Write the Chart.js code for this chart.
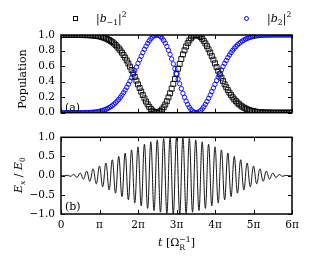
<!DOCTYPE html>
<html>
<head>
<meta charset="utf-8">
<script src="https://cdn.jsdelivr.net/npm/chart.js@4.4.0/dist/chart.umd.min.js"></script>
<style>
  body { margin: 0; background: #fff; width: 311px; height: 267px; position: relative; overflow: hidden;
         font-family: "DejaVu Serif", serif; color: #000; }
  canvas { position: absolute; left: 0; }
  #chartPop { top: 0; }
  #chartField { top: 125px; }
  .txt { position: absolute; white-space: nowrap; font-size: 11px; line-height: 1; }
  .rot { transform: translate(-50%, -50%) rotate(-90deg); }
  sub, sup { font-size: 70%; line-height: 0; }
  .ss { display: inline-block; vertical-align: -0.45em; font-size: 70%; line-height: 1; }
  .ss span { display: block; }
  .mk { position: absolute; }
</style>
</head>
<body>
<canvas id="chartPop" width="311" height="125"></canvas>
<canvas id="chartField" width="311" height="142"></canvas>

<!-- legenda -->
<div class="mk" style="left:73px;top:16px;width:5px;height:5px;border:1px solid #000;box-sizing:border-box"></div>
<div class="txt" style="left:96px;top:13px">|<i>b</i><sub>−1</sub>|<sup>2</sup></div>
<div class="mk" style="left:244px;top:16px;width:5px;height:5px;border:1px solid #00f;border-radius:50%;box-sizing:border-box"></div>
<div class="txt" style="left:267px;top:13px">|<i>b</i><sub>2</sub>|<sup>2</sup></div>

<!-- rótulos -->
<div class="txt" style="left:65px;top:102px">(a)</div>
<div class="txt" style="left:65px;top:201px">(b)</div>
<div class="txt rot" style="left:22px;top:79px">Population</div>
<div class="txt rot" style="left:18px;top:175px"><i>E<sub>x</sub></i> / <i>E</i><sub>0</sub></div>
<div class="txt" style="left:158px;top:236px"><i>t</i> [Ω<span class="ss"><span>−1</span><span>R</span></span>]</div>

<script>
// === DADOS ===
// populações: uma amostra a cada π/24, de 0 a 6π
const popStep = 1 / 24;

const popMinus1 = [
  1.000, 1.000, 1.000, 1.000, 1.000, 1.000, 1.000, 1.000, 1.000, 1.000, 1.000, 1.000, 1.000,
  0.999, 0.999, 0.999, 0.998, 0.998, 0.997, 0.995, 0.994, 0.992, 0.989, 0.986, 0.982,
  0.977, 0.971, 0.964, 0.956, 0.946, 0.935, 0.922, 0.908, 0.891, 0.872, 0.851, 0.828,
  0.802, 0.773, 0.742, 0.709, 0.672, 0.634, 0.593, 0.550, 0.506, 0.460, 0.413, 0.365,
  0.318, 0.272, 0.227, 0.184, 0.144, 0.108, 0.075, 0.048, 0.026, 0.011, 0.002, 0.000,
  0.006, 0.020, 0.041, 0.070, 0.105, 0.148, 0.197, 0.250, 0.309, 0.372, 0.433, 0.500,
  0.567, 0.628, 0.691, 0.750, 0.803, 0.852, 0.895, 0.930, 0.959, 0.980, 0.994, 1.000,
  0.998, 0.989, 0.974, 0.952, 0.925, 0.892, 0.856, 0.816, 0.773, 0.728, 0.682, 0.635,
  0.587, 0.540, 0.494, 0.450, 0.407, 0.366, 0.328, 0.291, 0.258, 0.227, 0.198, 0.172,
  0.149, 0.128, 0.109, 0.092, 0.078, 0.065, 0.054, 0.044, 0.036, 0.029, 0.023, 0.018,
  0.014, 0.011, 0.008, 0.006, 0.005, 0.003, 0.002, 0.002, 0.001, 0.001, 0.001, 0.000,
  0.000, 0.000, 0.000, 0.000, 0.000, 0.000, 0.000, 0.000, 0.000, 0.000, 0.000, 0.000
];

const popPlus2 = [
  0.000, 0.000, 0.000, 0.000, 0.000, 0.000, 0.000, 0.000, 0.000, 0.000, 0.000, 0.000, 0.000,
  0.001, 0.001, 0.001, 0.002, 0.002, 0.003, 0.005, 0.006, 0.008, 0.011, 0.014, 0.018,
  0.023, 0.029, 0.036, 0.044, 0.054, 0.065, 0.078, 0.092, 0.109, 0.128, 0.149, 0.172,
  0.198, 0.227, 0.258, 0.291, 0.328, 0.366, 0.407, 0.450, 0.494, 0.540, 0.587, 0.635,
  0.682, 0.728, 0.773, 0.816, 0.856, 0.892, 0.925, 0.952, 0.974, 0.989, 0.998, 1.000,
  0.994, 0.980, 0.959, 0.930, 0.895, 0.852, 0.803, 0.750, 0.691, 0.628, 0.567, 0.500,
  0.433, 0.372, 0.309, 0.250, 0.197, 0.148, 0.105, 0.070, 0.041, 0.020, 0.006, 0.000,
  0.002, 0.011, 0.026, 0.048, 0.075, 0.108, 0.144, 0.184, 0.227, 0.272, 0.318, 0.365,
  0.413, 0.460, 0.506, 0.550, 0.593, 0.634, 0.672, 0.709, 0.742, 0.773, 0.802, 0.828,
  0.851, 0.872, 0.891, 0.908, 0.922, 0.935, 0.946, 0.956, 0.964, 0.971, 0.977, 0.982,
  0.986, 0.989, 0.992, 0.994, 0.995, 0.997, 0.998, 0.998, 0.999, 0.999, 0.999, 1.000,
  1.000, 1.000, 1.000, 1.000, 1.000, 1.000, 1.000, 1.000, 1.000, 1.000, 1.000, 1.000
];

// campo: valores nos extremos, um a cada π/12
const fieldStep = 1 / 12;
const fieldEx = [
  0.000, -0.002, 0.008, -0.017, 0.030, -0.047, 0.067, -0.090, 0.117, -0.146, 0.179, -0.213,
  0.250, -0.289, 0.329, -0.371, 0.413, -0.456, 0.500, -0.544, 0.587, -0.629, 0.671, -0.711,
  0.750, -0.787, 0.821, -0.854, 0.883, -0.910, 0.933, -0.953, 0.970, -0.983, 0.992, -0.998,
  1.000, -0.998, 0.992, -0.983, 0.970, -0.953, 0.933, -0.910, 0.883, -0.854, 0.821, -0.787,
  0.750, -0.711, 0.671, -0.629, 0.587, -0.544, 0.500, -0.456, 0.413, -0.371, 0.329, -0.289,
  0.250, -0.213, 0.179, -0.146, 0.117, -0.090, 0.067, -0.047, 0.030, -0.017, 0.008, -0.002, 0.000
];

const xTicks = [0, 1, 2, 3, 4, 5, 6];
const xTickLabels = ["0", "π", "2π", "3π", "4π", "5π", "6π"];
const popTicks = [0, 0.2, 0.4, 0.6, 0.8, 1.0];
const fieldTicks = [-1, -0.5, 0, 0.5, 1];

const toPoints = (vals, step) => vals.map((v, i) => ({ x: i * step, y: v }));

// === ESTILO GERAL ===
Chart.defaults.font.family = "'DejaVu Serif', serif";
Chart.defaults.font.size = 10.5;
Chart.defaults.color = "#000";

// moldura + ticks para dentro (estilo matplotlib)
const frame = {
  id: "frame",
  afterDatasetsDraw(chart) {
    const { ctx, chartArea: a, scales: { x, y } } = chart;
    ctx.save();
    ctx.strokeStyle = "#000";
    ctx.lineWidth = 1;
    ctx.beginPath();
    xTicks.forEach(v => {
      const px = Math.round(x.getPixelForValue(v)) + 0.5;
      ctx.moveTo(px, a.bottom); ctx.lineTo(px, a.bottom - 4);
      ctx.moveTo(px, a.top); ctx.lineTo(px, a.top + 4);
    });
    y.ticks.forEach(t => {
      const py = Math.round(y.getPixelForValue(t.value)) + 0.5;
      ctx.moveTo(a.left, py); ctx.lineTo(a.left + 4, py);
      ctx.moveTo(a.right, py); ctx.lineTo(a.right - 4, py);
    });
    ctx.stroke();
    ctx.lineWidth = 1.5;
    ctx.strokeRect(a.left, a.top, a.width, a.height);
    ctx.restore();
  }
};

const xScale = (showLabels) => ({
  type: "linear",
  min: 0,
  max: 6,
  afterBuildTicks: s => { s.ticks = xTicks.map(v => ({ value: v })); },
  ticks: { display: showLabels, padding: 5, maxRotation: 0, autoSkip: false,
           callback: (v, i) => xTickLabels[i] },
  grid: { display: false, drawTicks: false },
  border: { display: false },
  afterFit: s => { s.height = showLabels ? 20 : 0; }
});

const yScale = (min, max, ticks, fmt) => ({
  min, max,
  afterBuildTicks: s => { s.ticks = ticks.map(v => ({ value: v })); },
  ticks: { padding: 6, autoSkip: false, callback: fmt },
  grid: { display: false, drawTicks: false },
  border: { display: false },
  afterFit: s => { s.width = 61; }
});

// === GRÁFICO (a): POPULAÇÕES ===
new Chart(document.getElementById("chartPop"), {
  type: "line",
  data: {
    datasets: [
      {
        label: "|b-1|^2",
        data: toPoints(popMinus1, popStep),
        showLine: false,
        pointStyle: "rect",
        pointRadius: 3.5,
        pointBorderWidth: 0.9,
        pointBorderColor: "#000",
        pointBackgroundColor: "rgba(0,0,0,0)",
        order: 1
      },
      {
        label: "|b2|^2",
        data: toPoints(popPlus2, popStep),
        showLine: false,
        pointStyle: "circle",
        pointRadius: 2.2,
        pointBorderWidth: 0.9,
        pointBorderColor: "#0000ff",
        pointBackgroundColor: "rgba(0,0,0,0)",
        order: 0
      }
    ]
  },
  options: {
    responsive: false,
    animation: false,
    layout: { padding: { left: 0, right: 19, top: 35, bottom: 9 } },
    plugins: { legend: { display: false }, tooltip: { enabled: false } },
    scales: {
      x: xScale(false),
      y: yScale(0, 1, popTicks, v => v.toFixed(1))
    }
  },
  plugins: [frame]
});

// === GRÁFICO (b): CAMPO ===
new Chart(document.getElementById("chartField"), {
  type: "line",
  data: {
    datasets: [{
      label: "Ex/E0",
      data: toPoints(fieldEx, fieldStep),
      borderColor: "#111",
      borderWidth: 1,
      pointRadius: 0,
      tension: 0.4,
      fill: false
    }]
  },
  options: {
    responsive: false,
    animation: false,
    layout: { padding: { left: 0, right: 19, top: 8, bottom: 33 } },
    plugins: { legend: { display: false }, tooltip: { enabled: false } },
    scales: {
      x: xScale(true),
      y: yScale(-1, 1, fieldTicks, v => (v < 0 ? "−" : "") + Math.abs(v).toFixed(1))
    }
  },
  plugins: [frame]
});
</script>
</body>
</html>
